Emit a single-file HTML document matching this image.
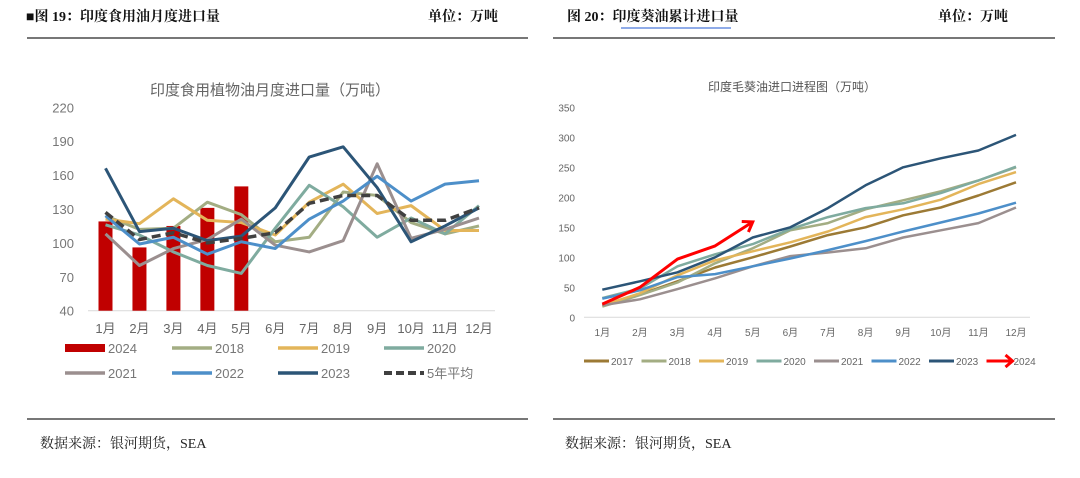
<!DOCTYPE html>
<html><head><meta charset="utf-8">
<style>
body{margin:0;width:1080px;height:473px;background:#fff;overflow:hidden;font-family:"Liberation Serif","Noto Serif CJK SC",serif;}
svg text{font-family:"Liberation Sans","Noto Sans CJK SC",sans-serif;}
</style></head>
<body>
<svg id="s" width="1080" height="473" xmlns="http://www.w3.org/2000/svg">
<g font-family="Liberation Serif, Noto Serif CJK SC, serif" font-weight="bold" font-size="14" fill="#111">
<text x="26" y="21" style="font-family:'Liberation Serif','Noto Serif CJK SC',serif">■图 19：印度食用油月度进口量</text>
<text x="428" y="21" style="font-family:'Liberation Serif','Noto Serif CJK SC',serif">单位：万吨</text>
<text x="567" y="21" style="font-family:'Liberation Serif','Noto Serif CJK SC',serif">图 20：印度葵油累计进口量</text>
<text x="938" y="21" style="font-family:'Liberation Serif','Noto Serif CJK SC',serif">单位：万吨</text>
</g>
<line x1="621" y1="28" x2="731" y2="28" stroke="#6a8fe0" stroke-width="1.5"/>
<line x1="27" y1="38" x2="528" y2="38" stroke="#777" stroke-width="2"/>
<line x1="553" y1="38" x2="1055" y2="38" stroke="#777" stroke-width="2"/>
<line x1="27" y1="419" x2="528" y2="419" stroke="#777" stroke-width="2"/>
<line x1="553" y1="419" x2="1055" y2="419" stroke="#777" stroke-width="2"/>
<text x="40" y="448" font-size="14" fill="#222" style="font-family:'Liberation Serif','Noto Serif CJK SC',serif">数据来源：银河期货，SEA</text>
<text x="565" y="448" font-size="14" fill="#222" style="font-family:'Liberation Serif','Noto Serif CJK SC',serif">数据来源：银河期货，SEA</text>
<text x="270" y="95" text-anchor="middle" font-size="15" fill="#666">印度食用植物油月度进口量（万吨）</text>
<text x="792" y="91" text-anchor="middle" font-size="12" fill="#555">印度毛葵油进口进程图（万吨）</text>
<g id="L"></g><g id="R"></g>
</svg>
<script>
const months=["1月","2月","3月","4月","5月","6月","7月","8月","9月","10月","11月","12月"];
const leftTicks=[40,70,100,130,160,190,220];
const bars2024=[119,96,115,131,150];
const l2018=[124,112,113,136,125,101,105,145,142,118,108,115];
const l2019=[121,117,139,120,118,107,136,152,126,133,111,111];
const l2020=[116,107,92,80,73,113,151,132,105,122,108,133];
const l2021=[108,80,95,103,121,98,92,102,170,104,112,122];
const l2022=[124,99,105,90,101,95,121,137,159,137,152,155];
const l2023=[166,110,113,102,106,131,176,185,149,101,115,131];
const lAvg=[127,103,109,100,104,109,135,142,142,120,120,131];
const rightTicks=[0,50,100,150,200,250,300,350];
const r2017=[20,38,60,83,100,118,137,150,170,183,203,225];
const r2018=[18,37,58,90,115,145,157,180,195,210,228,250];
const r2019=[20,40,70,95,110,125,143,167,180,196,222,242];
const r2020=[32,48,85,105,122,147,167,182,190,207,228,251];
const r2021=[20,30,47,65,85,102,108,115,133,145,157,183];
const r2022=[31,45,67,72,85,98,112,127,143,158,173,191];
const r2023=[46,60,75,100,133,150,182,220,250,265,278,304];
const r2024=[22,50,97,119,159];

const NS="http://www.w3.org/2000/svg";
function mk(p,t,a){const e=document.createElementNS(NS,t);for(const k in a)e.setAttribute(k,a[k]);p.appendChild(e);return e;}
const L=document.getElementById('L'),R=document.getElementById('R');
// left axes
const lx=i=>105.5+i*(479-105.5)/11, ly=v=>310.7-(v-40)*(310.7-107.3)/180;
leftTicks.forEach(t=>{const e=mk(L,'text',{x:74,y:ly(t)+5,'text-anchor':'end','font-size':13,fill:'#777'});e.textContent=t;

});
const la=mk(L,'line',{x1:88,y1:ly(40),x2:495,y2:ly(40),stroke:'#d9d9d9','stroke-width':1});


months.forEach((m,i)=>{const e=mk(L,'text',{x:lx(i),y:333,'text-anchor':'middle','font-size':13,fill:'#666'});e.textContent=m;

});
bars2024.forEach((v,i)=>{const b=mk(L,'rect',{x:lx(i)-7,y:ly(v),width:14,height:ly(40)-ly(v),fill:'#c00000'});

});
function line(g,data,xf,yf,col,w,name,dash){const p=mk(g,'polyline',{points:data.map((v,i)=>xf(i)+','+yf(v)).join(' '),fill:'none',stroke:col,'stroke-width':w,'stroke-linejoin':'round'});if(dash)p.setAttribute('stroke-dasharray',dash);

return p;}
const LC={s2018:'#a3ad83',s2019:'#e3b55a',s2020:'#7fab9f',s2021:'#9b8f8f',s2022:'#4d8fc9',s2023:'#2c5577',avg:'#404040'};
line(L,l2018,lx,ly,LC.s2018,3,'line-2018');
line(L,l2019,lx,ly,LC.s2019,3,'line-2019');
line(L,l2020,lx,ly,LC.s2020,3,'line-2020');
line(L,l2021,lx,ly,LC.s2021,3,'line-2021');
line(L,l2022,lx,ly,LC.s2022,3,'line-2022');
line(L,l2023,lx,ly,LC.s2023,3,'line-2023');
line(L,lAvg,lx,ly,LC.avg,3.5,'line-5yr-avg','9,5');
// left legend
const legL=[['2024','#c00000',65,348,'bar'],['2018',LC.s2018,172,348],['2019',LC.s2019,278,348],['2020',LC.s2020,384,348],['2021',LC.s2021,65,373],['2022',LC.s2022,172,373],['2023',LC.s2023,278,373],['5年平均',LC.avg,384,373,'dash']];
legL.forEach(([n,c,x,y,t])=>{const g=mk(L,'g',{});


if(t==='bar')mk(g,'rect',{x:x,y:y-4,width:40,height:8,fill:c});
else mk(g,'line',{x1:x,y1:y,x2:x+40,y2:y,stroke:c,'stroke-width':t==='dash'?4:3.5,'stroke-dasharray':t==='dash'?'8,4':'none'});
const e=mk(g,'text',{x:x+43,y:y+5,'font-size':13,fill:'#777'});e.textContent=n;});
// right axes
const rx=i=>602.3+i*(1016-602.3)/11, ry=v=>317.3-v*0.6;
rightTicks.forEach(t=>{const e=mk(R,'text',{x:575,y:ry(t)+4,'text-anchor':'end','font-size':10,fill:'#666'});e.textContent=t;

});
const ra=mk(R,'line',{x1:584,y1:ry(0),x2:1030,y2:ry(0),stroke:'#d9d9d9','stroke-width':1});


months.forEach((m,i)=>{const e=mk(R,'text',{x:rx(i),y:336,'text-anchor':'middle','font-size':10,fill:'#666'});e.textContent=m;

});
const RC={s2017:'#9c7a35',s2018:'#a3ad83',s2019:'#e3b55a',s2020:'#7fab9f',s2021:'#9b8f8f',s2022:'#4d8fc9',s2023:'#2c5577'};
line(R,r2017,rx,ry,RC.s2017,2.5,'cum-line-2017');
line(R,r2018,rx,ry,RC.s2018,2.5,'cum-line-2018');
line(R,r2019,rx,ry,RC.s2019,2.5,'cum-line-2019');
line(R,r2020,rx,ry,RC.s2020,2.5,'cum-line-2020');
line(R,r2021,rx,ry,RC.s2021,2.5,'cum-line-2021');
line(R,r2022,rx,ry,RC.s2022,2.5,'cum-line-2022');
line(R,r2023,rx,ry,RC.s2023,2.5,'cum-line-2023');
line(R,r2024,rx,ry,'#ff0000',3,'cum-line-2024');
// arrowhead
const n=r2024.length-1,tx=rx(n),ty=ry(r2024[n]),px=rx(n-1),py=ry(r2024[n-1]);
const ang=Math.atan2(ty-py,tx-px),h=11;
const ah=mk(R,'polyline',{points:`${tx-h*Math.cos(ang-0.6)},${ty-h*Math.sin(ang-0.6)} ${tx},${ty} ${tx-h*Math.cos(ang+0.6)},${ty-h*Math.sin(ang+0.6)}`,fill:'none',stroke:'#ff0000','stroke-width':3});


const legR=[['2017',RC.s2017],['2018',RC.s2018],['2019',RC.s2019],['2020',RC.s2020],['2021',RC.s2021],['2022',RC.s2022],['2023',RC.s2023],['2024','#ff0000']];
legR.forEach(([nm,c],i)=>{const x=584+i*57.5,y=361;const g=mk(R,'g',{});


mk(g,'line',{x1:x,y1:y,x2:x+25,y2:y,stroke:c,'stroke-width':3});
if(nm==='2024')mk(g,'polyline',{points:`${x+19},${y-6} ${x+26},${y} ${x+19},${y+6}`,fill:'none',stroke:c,'stroke-width':3});
const e=mk(g,'text',{x:x+27,y:y+4,'font-size':10,fill:'#666'});e.textContent=nm;});
</script>
</body></html>
